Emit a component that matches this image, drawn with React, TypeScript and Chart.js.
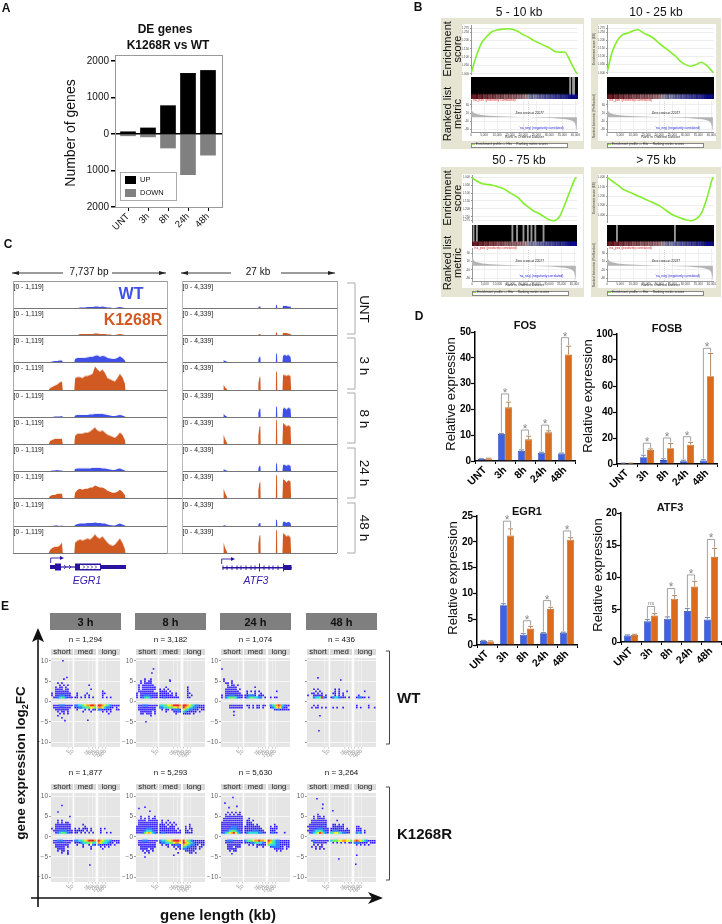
import React, { useEffect, useRef } from "react";
import { Chart, registerables } from "chart.js";
Chart.register(...registerables);
const F = '"Liberation Sans", Arial, sans-serif';
Chart.defaults.font.family = F;

/* ---------- Panel A ---------- */
const A_LABELS = ["UNT", "3h", "8h", "24h", "48h"];
const A_UP = [60, 165, 775, 1660, 1740];
const A_DOWN = [-50, -80, -385, -1115, -580];
const A_Y_TICKS = [-2000, -1000, 0, 1000, 2000];

/* ---------- Panel D ---------- */
const TIMES = ["UNT", "3h", "8h", "24h", "48h"];
const FOS_WT = [0.8, 10.5, 3.9, 3.2, 2.9];
const FOS_KR = [1, 20.8, 8.4, 11.1, 41.3];
const FOS_WT_ERR = [0.1, 0.2, 0.4, 0.2, 0.2];
const FOS_KR_ERR = [0.1, 2, 1.2, 0.6, 3.2];
const FOS_SIG = [null, 26, 12, 13.9, 47.8];
const FOSB_WT = [0.5, 5.2, 3, 2.2, 2.7];
const FOSB_KR = [0.5, 10.8, 12.2, 14.8, 67.5];
const FOSB_WT_ERR = [0.2, 1.5, 1, 0.7, 0.6];
const FOSB_KR_ERR = [0.2, 0.8, 3.5, 1.8, 17.5];
const FOSB_SIG = [null, 16, 20, 21, 89];
const EGR1_WT = [0.8, 7.7, 2, 2.3, 2.4];
const EGR1_KR = [0.7, 21.2, 3.2, 7, 20.4];
const EGR1_WT_ERR = [0.1, 0.3, 0.2, 0.1, 0.1];
const EGR1_KR_ERR = [0.1, 1.3, 0.4, 0.3, 0.4];
const EGR1_SIG = [null, 24, 4.7, 8.6, 22.1];
const ATF3_WT = [1, 3.2, 3.6, 4.8, 3.5];
const ATF3_KR = [1.1, 4.1, 6.7, 8.6, 13.2];
const ATF3_WT_ERR = [0.1, 0.3, 0.3, 0.4, 0.3];
const ATF3_KR_ERR = [0.1, 0.3, 0.5, 0.8, 1.3];
const ATF3_SIG = [null, 5.5, 8.3, 10.4, 15.9];
const ATF3_MARK = ["", "ns", "*", "*", "*"];

/* ---------- Panel B ---------- */
const RANKS = [0, 2000, 4000, 6000, 8000, 10000, 12000, 14000, 16000, 18000, 20000, 22000, 24000, 26000, 28000, 30000, 32000, 34000, 36000, 38000, 40000, 40600];
const ES_5_10 = [0, 0.105, 0.185, 0.225, 0.255, 0.265, 0.27, 0.272, 0.268, 0.255, 0.235, 0.22, 0.2, 0.185, 0.17, 0.155, 0.135, 0.13, 0.13, 0.07, 0.01, 0];
const ES_10_25 = [0, 0.13, 0.2, 0.235, 0.245, 0.26, 0.265, 0.245, 0.23, 0.21, 0.18, 0.155, 0.13, 0.105, 0.07, 0.05, 0.04, 0.05, 0.065, 0.045, 0.01, 0];
const ES_50_75 = [0, -0.025, -0.04, -0.045, -0.05, -0.06, -0.07, -0.09, -0.11, -0.13, -0.165, -0.19, -0.215, -0.23, -0.25, -0.27, -0.275, -0.25, -0.175, -0.09, -0.01, 0];
const ES_75 = [0, -0.04, -0.08, -0.125, -0.15, -0.175, -0.2, -0.225, -0.25, -0.275, -0.3, -0.34, -0.38, -0.41, -0.43, -0.45, -0.46, -0.44, -0.38, -0.23, -0.03, 0];
const ES_TICKS_POS = [0, 0.05, 0.1, 0.15, 0.2, 0.25, 0.275];
const ES_TICKS_NEG = [0, -0.05, -0.1, -0.15, -0.2, -0.25, -0.275];
const ES_TICKS_75 = [0, -0.05, -0.1, -0.15, -0.2, -0.25, -0.3, -0.35, -0.4, -0.45];
const RANK_TICKS = [0, 5000, 10000, 15000, 20000, 25000, 30000, 35000, 40000];
const METRIC_TICKS = [-30, -20, -10, 0, 10, 20, 30];
const METRIC_RANKS = [0, 150, 400, 800, 1500, 2500, 4000, 7000, 11000, 16000, 22000, 27000, 31000, 34000, 36500, 38000, 39200, 39900, 40300, 40600];
const METRIC = [32, 22, 16, 12, 9, 7.5, 5.5, 3.5, 2.2, 1, 0, -1, -2, -3.5, -5, -7, -10, -15, -24, -36];
const HITS_5_10 = [37800, 38900, 39300];
const HITS_10_25: number[] = [];
const HITS_50_75 = [600, 1900, 15700, 17500, 20000, 21700, 23100, 24600, 27800];
const HITS_75 = [3800, 25900];
const STRIP = [1, 0.8, 1, 0.7, 0.9, 0.6, 0.8, 0.5, 0.7, 0.6, 0.4, 0.6, 0.5, 0.3, 0.5, 0.4, 0.3, 0.4, 0.2, 0.3, 0.1, 0, -0.1, -0.3, -0.1, -0.2, -0.4, -0.3, -0.5, -0.4, -0.6, -0.5, -0.7, -0.6, -0.8, -0.7, -0.8, -0.9, -1, -1, -1];

/* ---------- Panel C ---------- */
const EGR1_BP = [1800, 1860, 1980, 2100, 2220, 2340, 2460, 2500, 3080, 3120, 3245, 3370, 3495, 3620, 3745, 3870, 3995, 4120, 4245, 4370, 4495, 4620, 4745, 4870, 4995, 5120, 5245, 5370, 5495, 5620, 5660];
const EGR1_TRACKS = [
  [0, 0, 0, 0, 0, 0, 0, 0, 0, 0, 0, 22, 22, 22, 43, 43, 43, 65, 65, 43, 65, 43, 22, 22, 0, 0, 22, 43, 22, 0, 0],
  [0, 0, 0, 0, 0, 0, 0, 0, 0, 0, 0, 43, 43, 43, 43, 43, 43, 65, 65, 43, 43, 43, 22, 22, 0, 0, 22, 43, 22, 0, 0],
  [0, 0, 22, 43, 43, 65, 65, 0, 0, 129, 172, 172, 172, 172, 194, 215, 215, 258, 280, 215, 258, 237, 172, 151, 129, 129, 172, 237, 172, 65, 0],
  [0, 86, 129, 172, 215, 300, 344, 0, 0, 473, 516, 516, 473, 559, 559, 602, 645, 946, 817, 731, 817, 688, 473, 430, 387, 344, 473, 645, 516, 258, 0],
  [0, 0, 0, 22, 22, 22, 43, 0, 0, 65, 86, 86, 86, 86, 86, 108, 108, 129, 129, 129, 129, 108, 86, 65, 43, 43, 65, 86, 65, 22, 0],
  [0, 129, 172, 215, 215, 215, 215, 0, 0, 344, 430, 430, 430, 473, 473, 516, 602, 688, 559, 516, 559, 473, 387, 344, 301, 258, 344, 473, 387, 172, 0],
  [0, 0, 22, 22, 43, 22, 22, 0, 0, 86, 108, 108, 108, 108, 108, 108, 129, 129, 129, 129, 108, 108, 86, 65, 43, 43, 86, 108, 65, 22, 0],
  [0, 86, 129, 129, 172, 172, 172, 0, 0, 215, 344, 387, 344, 387, 387, 430, 430, 516, 473, 430, 430, 387, 301, 258, 215, 215, 258, 344, 258, 129, 0],
  [0, 0, 0, 22, 22, 0, 22, 0, 0, 43, 86, 108, 108, 108, 129, 129, 129, 142, 129, 129, 108, 108, 65, 43, 22, 22, 65, 108, 65, 22, 0],
  [0, 129, 215, 258, 258, 301, 430, 0, 0, 430, 516, 559, 516, 559, 602, 559, 645, 774, 645, 602, 688, 559, 430, 344, 301, 344, 473, 602, 430, 172, 0],
];
const ATF3_BP = [0, 7200, 7250, 7500, 7800, 7900, 13250, 13300, 13500, 13650, 13700, 16350, 16400, 16550, 16600, 17500, 17600, 17900, 18200, 18500, 18900, 19000];
const ATF3_TRACKS = [
  [0, 0, 0, 0, 0, 0, 0, 125, 250, 250, 0, 0, 500, 500, 0, 0, 330, 330, 330, 250, 250, 0],
  [0, 0, 0, 0, 0, 0, 0, 85, 170, 170, 0, 0, 420, 420, 0, 0, 330, 330, 330, 250, 170, 0],
  [0, 0, 330, 170, 85, 0, 0, 420, 835, 835, 0, 0, 1340, 1340, 0, 0, 1000, 1170, 1000, 1170, 840, 0],
  [0, 0, 835, 420, 170, 0, 0, 1000, 2000, 2000, 0, 0, 2840, 2840, 0, 0, 2340, 2340, 2170, 2340, 2170, 0],
  [0, 0, 500, 250, 85, 0, 0, 670, 1340, 1340, 0, 0, 1670, 1670, 0, 0, 1340, 1500, 1170, 1500, 1340, 0],
  [0, 0, 1500, 800, 250, 0, 0, 1420, 2840, 2840, 0, 0, 3840, 3840, 0, 0, 3340, 3170, 2840, 3000, 2840, 0],
  [0, 0, 330, 170, 85, 0, 0, 420, 835, 835, 0, 0, 1250, 1250, 0, 0, 1000, 1000, 840, 1000, 840, 0],
  [0, 0, 1500, 800, 250, 0, 0, 1250, 2500, 2500, 0, 0, 3670, 3670, 0, 0, 3000, 2840, 2500, 2840, 2670, 0],
  [0, 0, 170, 85, 0, 0, 0, 250, 500, 500, 0, 0, 1000, 1000, 0, 0, 670, 670, 500, 670, 500, 0],
  [0, 0, 1670, 835, 250, 0, 0, 1420, 2840, 2840, 0, 0, 3670, 3670, 0, 0, 3170, 3000, 2670, 2840, 2500, 0],
];
const TRACK_ROWS = [281, 308, 335, 362, 390, 417, 444, 471, 498.5, 526, 553];

/* ---------- Panel E: density read per cell; '.' is empty, 1 blue ... 7 red ---------- */
const E_Y = [6, 5.5, 5, 4.5, 4, 3.5, 3, 2.5, 2, 1.5, 1, -1, -1.5, -2, -2.5, -3, -3.5, -4];
const E_Y_TICKS = [-10, -5, 0, 5, 10];
const WT_3H = [
  "...........|...........|...........",
  "......1....|...........|...........",
  "...........|...........|...........",
  "...1.1.....|...........|...........",
  "....1.1.1..|.......1...|...........",
  "..1.11.1...|...........|...........",
  "..1111.11..|........1..|...........",
  "..1111111..|...........|..1........",
  "1.11111111.|.1....1....|..11.......",
  "1.11222111.|.1...1.1...|..1........",
  ".1123432111|11.1.1.1.1.|..1.1.1....",
  ".1112221111|22334566776|77654321111",
  ".111111111.|11223344554|66532211.1.",
  "..1111111..|.1...1.1.11|2211111..11",
  "...1.11.1..|....1...1..|..1.1.1....",
  "....1.1.1..|...........|.....1.....",
  "...1.......|...........|...........",
  ".....1.....|...........|...........",
];
const WT_3H_OUT = [[6, 10], [7, -4.7], [18.5, -4.6], [8, 5.9]];
const WT_8H = [
  "...........|...........|...........",
  "....1..1...|...........|...........",
  "..1.1.11...|.....1.....|...........",
  "..1.1111...|...........|...........",
  ".1.111111..|...........|...........",
  ".1.1111111.|...1.......|..1........",
  ".1.1111111.|1.1.1......|..1........",
  ".11111111..|1111.1.....|..1........",
  "1.111111111|11111.1.1..|..11.......",
  "1.112221111|1111111.1..|..1.1......",
  "1.123432111|1121111111.|..11.......",
  ".1122211111|33445567776|77654322111",
  ".111111111.|22334445565|76543221111",
  ".111111111.|.1.11.12221|54322111.11",
  "..111111.1.|...1...1121|3211111.1..",
  "..11.111.1.|........1..|1111.1.....",
  ".......1...|...........|...........",
  "...........|...........|...........",
];
const WT_8H_OUT = [[8.8, 8], [8, 7], [5, -5], [17, 5.3]];
const WT_24H = [
  "...........|...........|...........",
  ".1.........|...........|...........",
  ".1...1.....|...........|...........",
  "..11.1.....|...........|...........",
  "...1.11.1..|...........|...........",
  "...11111...|.....1.....|...........",
  "..111111.1.|...........|...........",
  "..1111111..|.1.1.1.1...|....1......",
  "..11111111.|.1...1..1..|...........",
  "1.112221111|112221.111.|...........",
  "1.234443211|123443322.1|.1.11......",
  "....1111111|.11.1.11.11|.2346763211",
  "....1111111|..1.1.11.1.|.123565211.",
  "...........|...........|...11211111",
  "......1....|...........|...........",
  "...........|...........|...........",
  "...........|...........|...........",
  "...........|...........|...........",
];
const WT_24H_OUT = [[6.5, -3.4], [0.5, 8]];
const WT_48H = [
  "...........|...........|...........",
  "...........|...........|...........",
  "...........|...........|...........",
  "...........|...........|...........",
  "...........|...........|...........",
  "...........|...........|...........",
  "...1.1.....|..1.1......|...........",
  "....1.1....|..1.1...1..|.....1.....",
  "..11.1.1...|.11.1.1....|...........",
  "1..11111.1.|..1.1.1....|..1........",
  "...2334721.|12332111.1.|.12211.1...",
  "...1.1.....|...........|.1.....1...",
  "..1.11.1.1.|.1.1..1....|.1.1...1..1",
  "...........|...........|...........",
  "...........|...........|...........",
  "...........|...........|...........",
  "...........|...........|...........",
  "...........|...........|...........",
];
const WT_48H_OUT = [[6, -7.2], [6.5, -3.5], [5.5, 5.8], [17, 5.3]];
const KR_3H = [
  "...........|...........|...........",
  "...........|...........|...........",
  ".........1.|...........|...........",
  "...........|...........|...........",
  "...1.1.....|...........|...........",
  "...1.1.11..|...........|...........",
  "..11111111.|....1......|...........",
  "..11111111.|.....1.....|...........",
  "1.11111111.|1.1.111.1..|.1.1.......",
  ".1112222111|11111.1.1..|.1.........",
  "..123443211|11.1.1.1.1.|.1..1.1....",
  ".1122211111|22334567776|76543321111",
  ".111111111.|11123344543|65433211.11",
  "..1111111..|.1..1..1.21|2111111.1..",
  "..11111.1..|....1...1..|.1.1.1.....",
  "...1111....|........1..|..1........",
  "...1.11.1..|...........|...........",
  ".....1..1..|...........|...........",
];
const KR_3H_OUT = [[5.5, 7.7], [3.5, 6.1], [19.5, -7], [8.5, -4.3]];
const KR_8H = [
  "...........|...........|...........",
  "...........|...........|...........",
  "..1...1..1.|...........|...........",
  "..1.1.1.11.|...........|...........",
  ".1111.11111|.1..1......|...........",
  ".1111111111|.1.1.1.1...|...........",
  ".1111111111|111.1.1.1..|...1.......",
  "11111111111|1111.111...|.1.1.......",
  "11111222111|11111111.1.|.1.11......",
  "11112333211|111111111.1|.11.1......",
  "11124565321|12211111111|.1111......",
  ".1122211111|23345567776|75432111111",
  ".111111111.|12233445665|76543211111",
  ".111111111.|.1.11.11221|65432211.11",
  "..11111111.|....1..1.11|4322111.11.",
  "..1111.11..|........1.1|2211111.1..",
  "...1.11.1..|...........|.11111.....",
  "....1.1....|.........1.|...11.1....",
];
const KR_8H_OUT = [[1.5, 7], [4.5, 7.3], [4.5, -5], [19, -4.6], [7, 6.3]];
const KR_24H = [
  "...1.1.1.1.|...........|...........",
  "..1.1.1.11.|...........|...........",
  "..111111111|...........|...........",
  ".1111111111|..1........|...........",
  ".1111111111|.11.1......|...........",
  "11111111111|.111.......|...........",
  "11111111111|.1111.1....|...1.......",
  "11111222111|11111111...|.1.11......",
  "11112222111|111111111..|.1111......",
  "11123443211|1111222111.|.111.......",
  "12345675321|12333332211|.1211...1..",
  "..122211111|23445667665|76432211111",
  "..111111111|11122343321|65432211111",
  "...1111111.|..1.1.11111|43332211111",
  "...111.111.|......1..1.|.1222211.11",
  "...11111...|...........|...11111.1.",
  "....1.11...|...........|....1.1....",
  "...........|...........|...........",
];
const KR_24H_OUT = [[2, 8.3], [6, 9.7], [8, 7.5], [5.5, -4.2], [4, 7.2]];
const KR_48H = [
  "...........|...........|...........",
  ".....1.....|...........|...........",
  "...1.11.1..|...........|...........",
  "...1.1111..|...........|...........",
  "..11111111.|...1.......|...........",
  "..11111111.|...........|...........",
  ".111111111.|.11.1.1....|...........",
  "1111111111.|.111111....|.11........",
  ".1111222111|1111111.1..|.111.......",
  "11123343211|1222111111.|.111.1.....",
  ".1234576321|3455432211.|.232.1.....",
  "..121111111|34445566554|67654321111",
  "...1111111.|.1.1.1.1.11|2221111.111",
  "...1.1.1...|...........|.1.1.1.1...",
  "..1.1.11...|...........|...........",
  "....1.1.1..|...........|...........",
  "...........|...........|...........",
  "...........|...........|...........",
];
const KR_48H_OUT = [[5, 9.4], [8, 8], [7.8, 7], [13, 6.4], [16, -5.5], [25, -4.6], [24.5, -6.8]];
const E_LEVEL_COLORS = ["#2a14ff", "#2c7dff", "#27dbe0", "#66f060", "#f2f02e", "#ff9a1e", "#ee2222"];
const E_X_TICKS = [9, 11, 19, 20.7, 22.3, 24, 26, 27.5];
const E_X_LABELS = ["5", "10", "25", "50", "75", "100", "250", "500"];

/* ---------- helpers ---------- */
type Spec = { left: number; top: number; w: number; h: number; config: any };
const SPECS: Spec[] = [];
const setTicks = (vals: number[]) => (s: any) => { s.ticks = vals.map((value) => ({ value })); };
function place(px: number, py: number, pw: number, ph: number, m: any, data: any, options: any, plugins: any[] = [], type = "bar") {
  const sc = options.scales;
  const pad: any = { top: m.t, right: m.r, left: 0, bottom: 0 };
  if (sc.x.display === false) pad.bottom = m.b; else sc.x.afterFit = (s: any) => { s.height = m.b; };
  if (sc.y.display === false) pad.left = m.l; else sc.y.afterFit = (s: any) => { s.width = m.l; };
  SPECS.push({
    left: px - m.l, top: py - m.t, w: pw + m.l + m.r, h: ph + m.t + m.b,
    config: {
      type, data, plugins,
      options: {
        ...options, responsive: false, maintainAspectRatio: false, animation: false, layout: { padding: pad },
        plugins: { legend: { display: false }, tooltip: { enabled: false }, title: { display: false }, ...(options.plugins || {}) },
      },
    },
  });
}

/* Panel A chart */
place(115, 55, 107, 152, { l: 45, r: 6, t: 6, b: 30 },
  {
    datasets: [
      { label: "UP", data: A_UP.map((y, x) => ({ x, y })), backgroundColor: "#000", barThickness: 15, grouped: false },
      { label: "DOWN", data: A_DOWN.map((y, x) => ({ x, y })), backgroundColor: "#808080", barThickness: 15, grouped: false },
    ],
  },
  {
    scales: {
      x: {
        type: "linear", min: -0.65, max: 4.7, offset: false, bounds: "data",
        afterBuildTicks: setTicks([0, 1, 2, 3, 4]),
        grid: { offset: false, drawOnChartArea: false, tickLength: 4, tickColor: "#000" }, border: { display: false },
        ticks: { autoSkip: false, minRotation: 45, maxRotation: 45, padding: 0, color: "#111", font: { size: 9.5 }, callback: (_: any, i: number) => A_LABELS[i] },
      },
      y: {
        min: -2000, max: 2108, border: { display: false }, bounds: "data",
        afterBuildTicks: setTicks(A_Y_TICKS),
        grid: { z: 1, color: (c: any) => (c.tick && c.tick.value === 0 ? "#000" : "transparent"), lineWidth: 1.5, tickColor: "#000", tickLength: 4 },
        ticks: { padding: 2, color: "#111", font: { size: 10 }, callback: (v: number) => String(Math.abs(v)) },
      },
    },
  });

/* Panel D charts */
const sigPlugin = {
  id: "sig",
  afterDatasetsDraw(chart: any) {
    const ds = chart.data.datasets;
    const y = chart.scales.y;
    const ctx = chart.ctx;
    ctx.save();
    ds.forEach((d: any, k: number) => {
      const meta = chart.getDatasetMeta(k);
      meta.data.forEach((bar: any, i: number) => {
        const top = y.getPixelForValue(d.data[i] + d.err[i]);
        ctx.strokeStyle = k === 0 ? "#7484a8" : "#b08a64";
        ctx.lineWidth = 1;
        ctx.beginPath();
        ctx.moveTo(bar.x, bar.y); ctx.lineTo(bar.x, top);
        ctx.moveTo(bar.x - 2.5, top); ctx.lineTo(bar.x + 2.5, top);
        ctx.stroke();
      });
    });
    const opt = chart.options.plugins.sigLevels;
    const a = chart.getDatasetMeta(0).data, b = chart.getDatasetMeta(1).data;
    opt.levels.forEach((lv: number | null, i: number) => {
      if (lv == null) return;
      const yl = y.getPixelForValue(lv);
      const y0 = y.getPixelForValue(ds[0].data[i] + ds[0].err[i]) - 1;
      const y1 = y.getPixelForValue(ds[1].data[i] + ds[1].err[i]) - 1;
      ctx.strokeStyle = "#8a8a8a"; ctx.lineWidth = 0.8;
      ctx.beginPath();
      ctx.moveTo(a[i].x, y0); ctx.lineTo(a[i].x, yl); ctx.lineTo(b[i].x, yl); ctx.lineTo(b[i].x, y1);
      ctx.stroke();
      const mark = opt.marks ? opt.marks[i] : "*";
      ctx.fillStyle = "#8a8a8a";
      ctx.textAlign = "center";
      ctx.textBaseline = "alphabetic";
      ctx.font = mark === "*" ? `12px ${F}` : `6px ${F}`;
      ctx.fillText(mark, (a[i].x + b[i].x) / 2, mark === "*" ? yl + 3 : yl - 1.5);
    });
    ctx.restore();
  },
};
function barPanel(px: number, py: number, ph: number, wt: number[], kr: number[], ew: number[], ek: number[], levels: any[], max: number, step: number, marks?: string[]) {
  place(px, py, 100, ph, { l: 32, r: 8, t: 18, b: 34 },
    {
      labels: TIMES,
      datasets: [
        { data: wt, err: ew, backgroundColor: "#3f62e4", borderColor: "#2f4aa8", borderWidth: 0.8, categoryPercentage: 0.72, barPercentage: 0.98 },
        { data: kr, err: ek, backgroundColor: "#d96c1e", borderColor: "#ad6a34", borderWidth: 0.8, categoryPercentage: 0.72, barPercentage: 0.98 },
      ],
    },
    {
      plugins: { sigLevels: { levels, marks } },
      scales: {
        x: {
          grid: { drawOnChartArea: false, tickLength: 3, tickColor: "#000" }, border: { color: "#000", width: 1.5 },
          ticks: { autoSkip: false, minRotation: 45, maxRotation: 45, padding: 0, color: "#000", font: { size: 10.5, weight: "bold" } },
        },
        y: {
          min: 0, max, grid: { drawOnChartArea: false, tickLength: 4, tickColor: "#000", tickWidth: 1.2 }, border: { color: "#000", width: 1.5 },
          ticks: { stepSize: step, padding: 0, color: "#000", font: { size: 10, weight: "bold" } },
        },
      },
    }, [sigPlugin]);
}
barPanel(475, 332, 129, FOS_WT, FOS_KR, FOS_WT_ERR, FOS_KR_ERR, FOS_SIG, 50, 10);
barPanel(617, 334, 130, FOSB_WT, FOSB_KR, FOSB_WT_ERR, FOSB_KR_ERR, FOSB_SIG, 100, 20);
barPanel(477, 516, 129, EGR1_WT, EGR1_KR, EGR1_WT_ERR, EGR1_KR_ERR, EGR1_SIG, 25, 5);
barPanel(621, 513, 129, ATF3_WT, ATF3_KR, ATF3_WT_ERR, ATF3_KR_ERR, ATF3_SIG, 20, 5, ATF3_MARK);

/* Panel B charts */
const stripColor = (v: number) => {
  const t = 1 - Math.abs(v);
  return v >= 0
    ? `rgba(${Math.round(130 + 100 * t)},${Math.round(20 + 170 * t)},${Math.round(30 + 170 * t)},0.6)`
    : `rgba(${Math.round(15 + 190 * t)},${Math.round(15 + 190 * t)},${Math.round(190 + 40 * t)},0.6)`;
};
function gsea(g: any) {
  const w = g.inR - g.inL;
  const tiny = { size: 3 };
  place(g.inL, g.esT, w, g.esB - g.esT, { l: 9, r: 2, t: 1, b: 1 },
    { datasets: [{ data: RANKS.map((x, i) => ({ x, y: g.es[i] })), borderColor: "#82ee2c", borderWidth: 1.6, pointRadius: 0, tension: 0.25 }] },
    {
      scales: {
        x: { type: "linear", display: false, min: 0, max: 40800, bounds: "data" },
        y: {
          min: g.yMin, max: g.yMax, bounds: "data", border: { color: "#999" }, grid: { color: "#eee", tickLength: 1, tickColor: "#999" },
          afterBuildTicks: setTicks(g.yTicks),
          ticks: { padding: 1, color: "#444", font: tiny, callback: (v: number) => v.toFixed(3) },
        },
      },
    }, [], "line");
  place(g.inL, g.bT, w, g.bB - g.bT, { l: 1, r: 1, t: 0, b: 0 },
    {
      datasets: [
        { type: "line", data: [{ x: 0, y: 1 }, { x: 40800, y: 1 }], fill: "origin", backgroundColor: "#000", borderWidth: 0, pointRadius: 0, order: 3 },
        { data: g.hits.map((x: number) => ({ x, y: [0.2, 1] })), backgroundColor: "#999", barThickness: 1.2, grouped: false, order: 2 },
        { data: STRIP.map((v, i) => ({ x: i * 1000 + 300, y: [0, 0.2] })), backgroundColor: STRIP.map(stripColor), barThickness: 3, grouped: false, order: 1 },
      ],
    },
    {
      scales: {
        x: { type: "linear", display: false, min: 0, max: 40800, offset: false, bounds: "data", grid: { offset: false } },
        y: { display: false, min: 0, max: 1 },
      },
    });
  place(g.inL, g.rT, w, g.rB - g.rT, { l: 9, r: 2, t: 1, b: 6 },
    {
      datasets: [
        { data: METRIC_RANKS.map((x, i) => ({ x, y: METRIC[i] })), borderWidth: 0, backgroundColor: "#b4b4b4", fill: "origin", pointRadius: 0 },
        { data: [{ x: 22000, y: -36 }, { x: 22000, y: 40 }], borderColor: "#aaa", borderWidth: 0.5, borderDash: [1, 1], pointRadius: 0 },
      ],
    },
    {
      scales: {
        x: {
          type: "linear", min: 0, max: 40800, bounds: "data", border: { color: "#999" }, grid: { color: "#eee", tickLength: 1, tickColor: "#999" },
          afterBuildTicks: setTicks(RANK_TICKS),
          ticks: { padding: 0, maxRotation: 0, autoSkip: false, color: "#444", font: tiny, callback: (v: number) => v.toLocaleString("en-US") },
        },
        y: {
          min: -36, max: 40, bounds: "data", border: { color: "#999" }, grid: { color: "#eee", tickLength: 1, tickColor: "#999" },
          afterBuildTicks: setTicks(METRIC_TICKS),
          ticks: { padding: 1, color: "#444", font: tiny },
        },
      },
    }, [], "line");
}
const GS = [
  { bgL: 441, bgR: 584, bgT: 18, bgB: 149, whL: 462, whR: 583, whT: 24, whB: 141, inL: 470.7, inR: 578, esT: 24, esB: 76, bT: 77, bB: 98.7, rT: 99, rB: 132, es: ES_5_10, hits: HITS_5_10, yMin: -0.003, yMax: 0.29, yTicks: ES_TICKS_POS, title: "5 - 10 kb", tx: 519, ty: 12 },
  { bgL: 591, bgR: 721, bgT: 18, bgB: 149, whL: 598, whR: 716, whT: 24, whB: 141, inL: 607, inR: 714, esT: 24, esB: 75, bT: 77, bB: 98.7, rT: 99, rB: 132, es: ES_10_25, hits: HITS_10_25, yMin: -0.003, yMax: 0.29, yTicks: ES_TICKS_POS, title: "10 - 25 kb", tx: 656, ty: 12 },
  { bgL: 441, bgR: 584, bgT: 167, bgB: 297, whL: 462, whR: 583, whT: 174, whB: 288, inL: 472, inR: 577, esT: 174, esB: 224, bT: 225, bB: 246, rT: 247, rB: 281, es: ES_50_75, hits: HITS_50_75, yMin: -0.285, yMax: 0.01, yTicks: ES_TICKS_NEG, title: "50 - 75 kb", tx: 519, ty: 160 },
  { bgL: 591, bgR: 721, bgT: 167, bgB: 297, whL: 598, whR: 716, whT: 174, whB: 288, inL: 607, inR: 714, esT: 174, esB: 224, bT: 225, bB: 246, rT: 247, rB: 281, es: ES_75, hits: HITS_75, yMin: -0.475, yMax: 0.015, yTicks: ES_TICKS_75, title: "> 75 kb", tx: 656, ty: 160 },
];
GS.forEach((g) => gsea(g));

/* Panel C charts */
function track(x: number, top: number, bottom: number, w: number, xs: number[], vals: number[], color: string, xmax: number, ymax: number) {
  place(x, top, w, bottom - top, { l: 0, r: 0, t: 0, b: 0 },
    { datasets: [{ data: xs.map((v, i) => ({ x: v, y: vals[i] })), fill: "origin", backgroundColor: color, borderWidth: 0, pointRadius: 0 }] },
    { scales: { x: { type: "linear", display: false, min: 0, max: xmax, bounds: "data" }, y: { display: false, min: 0, max: ymax, bounds: "data" } } }, [], "line");
}
const BLUE = "#3f4fe8", ORANGE = "#d15a22";
for (let i = 0; i < 10; i++) {
  const c = i % 2 === 0 ? BLUE : ORANGE;
  track(13, TRACK_ROWS[i], TRACK_ROWS[i + 1] - 0.5, 154, EGR1_BP, EGR1_TRACKS[i], c, 7737, 1119);
  track(182, TRACK_ROWS[i], TRACK_ROWS[i + 1] - 0.5, 155, ATF3_BP, ATF3_TRACKS[i], c, 27000, 4339);
}

/* Panel E charts */
const facetPlugin = {
  id: "facetBg",
  beforeDraw(chart: any) {
    const { ctx, chartArea: a, scales } = chart;
    ctx.save();
    ctx.fillStyle = "#e5e5e5";
    [[0, 11], [11.65, 22.65], [23.5, 34.65]].forEach(([s, e]) => {
      const l = scales.x.getPixelForValue(s), r = scales.x.getPixelForValue(e);
      ctx.fillRect(l, a.top, r - l, a.bottom - a.top);
    });
    ctx.restore();
  },
};
const FACET_SHIFT = [0, 11.65, 23.5];
function densityPanel(px: number, top: number, bottom: number, zero: number, grid: string[], out: number[][], showY: boolean) {
  const levels: any[][] = E_LEVEL_COLORS.map(() => []);
  grid.forEach((row, r) => {
    row.split("|").forEach((seg, f) => {
      for (let c = 0; c < seg.length; c++) {
        const ch = seg[c];
        if (ch !== ".") levels[Number(ch) - 1].push({ x: c + 0.5 + FACET_SHIFT[f], y: E_Y[r] });
      }
    });
  });
  const upp = 4.2;
  const datasets: any[] = levels.map((data, i) => ({
    data, backgroundColor: E_LEVEL_COLORS[i], pointStyle: "rect", pointRadius: i === 0 ? 1.15 : 1.6, borderWidth: 0,
  }));
  datasets.push({ data: out.map(([x, y]) => ({ x, y })), backgroundColor: E_LEVEL_COLORS[0], pointStyle: "rect", pointRadius: 1.1, borderWidth: 0 });
  place(px, top, 69.3, bottom - top, { l: 24, r: 4, t: 2, b: 14 }, { datasets },
    {
      scales: {
        x: {
          type: "linear", min: 0, max: 34.65, bounds: "data", border: { display: false },
          afterBuildTicks: setTicks(E_X_TICKS),
          grid: { color: "#f3f3f3", lineWidth: 0.6, tickLength: 1.5, tickColor: "#aaa" },
          ticks: { autoSkip: false, minRotation: 45, maxRotation: 45, padding: 0, color: "#999", font: { size: 5 }, callback: (_: any, i: number) => E_X_LABELS[i] },
        },
        y: {
          min: -(bottom - zero) / upp, max: (zero - top) / upp, bounds: "data", border: { display: false },
          afterBuildTicks: setTicks(E_Y_TICKS),
          grid: { color: "#fbfbfb", lineWidth: 0.8, tickLength: 2, tickColor: "#888" },
          ticks: { padding: 1, color: "#666", font: { size: 6.5 }, callback: (v: number) => (showY ? String(v).replace("-", "\u2212") : "") },
        },
      },
    }, [facetPlugin], "scatter");
}
const E_X = [51, 136, 221, 307];
const E_TIMES = ["3 h", "8 h", "24 h", "48 h"];
const E_N_WT = ["n = 1,294", "n = 3,182", "n = 1,074", "n = 436"];
const E_N_KR = ["n = 1,877", "n = 5,293", "n = 5,630", "n = 3,264"];
const WT_GRIDS = [WT_3H, WT_8H, WT_24H, WT_48H];
const WT_OUTS = [WT_3H_OUT, WT_8H_OUT, WT_24H_OUT, WT_48H_OUT];
const KR_GRIDS = [KR_3H, KR_8H, KR_24H, KR_48H];
const KR_OUTS = [KR_3H_OUT, KR_8H_OUT, KR_24H_OUT, KR_48H_OUT];
E_X.forEach((x, i) => {
  densityPanel(x, 655, 747, 700, WT_GRIDS[i], WT_OUTS[i], i < 3);
  densityPanel(x, 789.5, 882, 835, KR_GRIDS[i], KR_OUTS[i], true);
});

/* ---------- page pieces ---------- */
function T({ x, y, s, b, i, c = "#111", rot = 0, a = "c", children }: any) {
  const tx = a === "c" ? "-50%" : "0";
  return (
    <div style={{ position: "absolute", left: x, top: y, fontFamily: F, fontSize: s, fontWeight: b ? "bold" : "normal", fontStyle: i ? "italic" : "normal", color: c, whiteSpace: "nowrap", lineHeight: 1, transform: `translate(${tx},-50%) rotate(${rot}deg)` }}>
      {children}
    </div>
  );
}
function Bx({ x, y, w, h, c, style }: any) {
  return <div style={{ position: "absolute", left: x, top: y, width: w, height: h, background: c, boxSizing: "border-box", ...style }} />;
}

function Background() {
  return (
    <>
      {GS.map((g, k) => (
        <React.Fragment key={k}>
          <Bx x={g.bgL} y={g.bgT} w={g.bgR - g.bgL} h={g.bgB - g.bgT} c="#e6e4d2" />
          <Bx x={g.whL} y={g.whT} w={g.whR - g.whL} h={g.whB - g.whT} c="#fff" />
        </React.Fragment>
      ))}
      {TRACK_ROWS.slice(1).map((y, i) => (
        <React.Fragment key={i}>
          <Bx x={13} y={y - 0.5} w={154} h={1.2} c="#777" />
          <Bx x={182} y={y - 0.5} w={155} h={1.2} c="#777" />
        </React.Fragment>
      ))}
      <Bx x={13} y={281} w={154} h={1} c="#999" />
      <Bx x={182} y={281} w={155} h={1} c="#999" />
      <Bx x={13} y={281} w={1} h={272} c="#aaa" />
      <Bx x={167} y={281} w={1} h={272} c="#aaa" />
      <Bx x={182} y={281} w={1} h={272} c="#bbb" />
      <Bx x={337} y={281} w={1} h={272} c="#aaa" />
      <Bx x={167} y={443.7} w={15} h={0.8} c="#aaa" />
      <Bx x={167} y={498} w={15} h={0.8} c="#666" />
      <Bx x={167} y={552.7} w={15} h={0.8} c="#aaa" />
    </>
  );
}

function Overlay() {
  const ns = "#2a12a0";
  const br = (x0: number, x1: number, y0: number, y1: number, c: string, w = 1) => (
    <path d={`M${x0} ${y0}H${x1}V${y1}H${x0}`} fill="none" stroke={c} strokeWidth={w} />
  );
  return (
    <svg width={722} height={924} style={{ position: "absolute", left: 0, top: 0 }}>
      {[[12, 63, 1], [112, 166, 0], [181, 231, 1], [281, 335, 0]].map(([a, b, left], i) => (
        <g key={i}>
          <line x1={a} x2={b} y1={273} y2={273} stroke="#222" strokeWidth={0.9} />
          {left ? <path d={`M${a} 273l7 -2v4z`} fill="#222" /> : <path d={`M${b} 273l-7 -2v4z`} fill="#222" />}
        </g>
      ))}
      {br(347, 355, 283, 334, "#aaa")}
      {br(347, 355, 338, 389, "#aaa")}
      {br(347, 355, 393, 443, "#aaa")}
      {br(347, 355, 448, 498, "#aaa")}
      {br(347, 355, 503, 553, "#aaa")}
      <line x1={50} x2={75} y1={567} y2={567} stroke={ns} strokeWidth={1.2} />
      <rect x={50} y={565} width={6} height={4} fill={ns} />
      <rect x={55} y={563.5} width={6} height={7} fill={ns} />
      <path d="M64 565l2 2l-2 2M69 565l2 2l-2 2" fill="none" stroke={ns} strokeWidth={0.8} />
      <rect x={75} y={563.5} width={26} height={7} fill={ns} />
      <rect x={80} y={565} width={20} height={4} fill="#fff" />
      <path d="M83 565.5l1.5 1.5l-1.5 1.5M87 565.5l1.5 1.5l-1.5 1.5M91 565.5l1.5 1.5l-1.5 1.5M95 565.5l1.5 1.5l-1.5 1.5" fill="none" stroke={ns} strokeWidth={0.8} />
      <rect x={101} y={565} width={25} height={4} fill={ns} />
      <path d="M50.7 563V558H61" fill="none" stroke={ns} strokeWidth={0.9} />
      <path d="M64 558l-4 -2v4z" fill={ns} />
      <line x1={222.5} x2={291.7} y1={567.7} y2={567.7} stroke={ns} strokeWidth={1.4} />
      {[223, 227, 232, 237, 241, 246, 251, 255, 264, 269, 273, 278].map((x) => (
        <line key={x} x1={x} x2={x} y1={565.5} y2={570} stroke={ns} strokeWidth={0.9} />
      ))}
      <line x1={259.5} x2={259.5} y1={563.5} y2={571.5} stroke={ns} strokeWidth={0.9} />
      <line x1={283.5} x2={283.5} y1={563.5} y2={571.5} stroke={ns} strokeWidth={0.9} />
      <rect x={283.5} y={565} width={8} height={5} fill={ns} />
      <path d="M221.7 564V559H232" fill="none" stroke={ns} strokeWidth={0.9} />
      <path d="M235 559l-4 -2v4z" fill={ns} />
      <line x1={38} x2={38} y1={907} y2={638} stroke="#111" strokeWidth={1.6} />
      <path d="M38 628L44 642L38 639L32 642Z" fill="#111" />
      <line x1={31} x2={373} y1={898} y2={898} stroke="#111" strokeWidth={1.6} />
      <path d="M383 898L368 892L372 898L368 904Z" fill="#111" />
      <path d="M386 651H389.5V744H386" fill="none" stroke="#444" strokeWidth={1} />
      <path d="M386 787H389.5V880H386" fill="none" stroke="#444" strokeWidth={1} />
    </svg>
  );
}

function Texts() {
  const C_TIMES: [string, number][] = [["UNT", 309], ["3 h", 366], ["8 h", 419], ["24 h", 473], ["48 h", 528]];
  return (
    <>
      <T x={6} y={8} s={12} b>A</T>
      <T x={418} y={7} s={12} b>B</T>
      <T x={8} y={244} s={12} b>C</T>
      <T x={419} y={316} s={12} b>D</T>
      <T x={5} y={606} s={12} b>E</T>

      <T x={165} y={29} s={12} b>DE genes</T>
      <T x={168} y={45} s={12} b>K1268R vs WT</T>
      <T x={70} y={133} s={14} rot={-90}>Number of genes</T>
      <Bx x={115} y={55} w={107.5} h={153} style={{ border: "1.6px solid #999" }} />
      <Bx x={120} y={171.5} w={57} h={29} c="#fff" style={{ border: "1.2px solid #aaa" }} />
      <Bx x={125} y={176} w={10.5} h={8} c="#000" />
      <Bx x={125} y={189} w={10.5} h={7.5} c="#808080" />
      <T x={140} y={180} s={7.5} a="l">UP</T>
      <T x={140} y={193} s={7.5} a="l">DOWN</T>

      {GS.map((g, k) => {
        const left = k % 2 === 0;
        const o = g.bgT;
        return (
          <React.Fragment key={k}>
            <T x={g.tx} y={g.ty} s={12}>{g.title}</T>
            {left ? (
              <>
                <T x={447} y={o + 31} s={11} rot={-90}>Enrichment</T>
                <T x={457} y={o + 31} s={11} rot={-90}>score</T>
                <T x={447} y={o + 96} s={11} rot={-90}>Ranked list</T>
                <T x={457} y={o + 96} s={11} rot={-90}>metric</T>
              </>
            ) : (
              <>
                <T x={595} y={o + 31} s={3.2} c="#333" rot={-90}>Enrichment score (ES)</T>
                <T x={595} y={o + 98} s={3.2} c="#333" rot={-90}>Ranked list metric (PreRanked)</T>
              </>
            )}
            <T x={g.inL + 2} y={g.rT + 1.5} s={3.2} c="#d22" a="l">'na_pos' (positively correlated)</T>
            <T x={g.inL + (g.inR - g.inL) * 0.55} y={g.rT + 15} s={3.2} c="#222">Zero cross at 22077</T>
            <T x={g.inL + (g.inR - g.inL) * 0.66} y={g.rT + 30} s={3.2} c="#22d">'na_neg' (negatively correlated)</T>
            <T x={(g.inL + g.inR) / 2} y={g.rT + 39} s={3.5} c="#333">Rank in Ordered Dataset</T>
            <Bx x={g.inL} y={g.bgB - 6.5} w={97} h={5.5} c="#fff" style={{ border: "0.6px solid #888" }} />
            <T x={g.inL + 1} y={g.bgB - 3.7} s={3.2} c="#333" a="l"><span style={{ color: "#82ee2c" }}>▬</span> Enrichment profile — Hits &nbsp;&nbsp;&nbsp; Ranking metric scores</T>
          </React.Fragment>
        );
      })}

      <T x={89} y={272} s={10}>7,737 bp</T>
      <T x={258} y={272} s={10}>27 kb</T>
      <T x={131} y={294} s={16} b c="#3f4fe8">WT</T>
      <T x={133} y={320} s={16} b c="#d15a22">K1268R</T>
      {TRACK_ROWS.slice(0, 10).map((y, i) => (
        <React.Fragment key={i}>
          <T x={13.5} y={y + 6} s={6.8} c="#222" a="l">[0 - 1,119]</T>
          <T x={182.5} y={y + 6} s={6.8} c="#222" a="l">[0 - 4,339]</T>
        </React.Fragment>
      ))}
      {C_TIMES.map(([t, y]) => <T key={t} x={364} y={y} s={13.5} rot={90}>{t}</T>)}
      <T x={87} y={580} s={10.5} i c="#3a20b0">EGR1</T>
      <T x={256} y={580} s={10.5} i c="#3a20b0">ATF3</T>

      <T x={525} y={325} s={11} b>FOS</T>
      <T x={667} y={328} s={11} b>FOSB</T>
      <T x={527} y={511} s={11} b>EGR1</T>
      <T x={670} y={507} s={11} b>ATF3</T>
      <T x={450} y={394} s={13} rot={-90}>Relative expression</T>
      <T x={587} y={396} s={13} rot={-90}>Relative expression</T>
      <T x={452} y={578} s={13} rot={-90}>Relative expression</T>
      <T x={597} y={575} s={13} rot={-90}>Relative expression</T>

      {E_X.map((x, i) => (
        <React.Fragment key={i}>
          <Bx x={x - 1} y={613} w={71} h={16.5} c="#7f7f80" />
          <T x={x + 34.5} y={621.5} s={11} b>{E_TIMES[i]}</T>
          <T x={x + 34.5} y={639.5} s={8}>{E_N_WT[i]}</T>
          <T x={x + 34.5} y={773} s={8}>{E_N_KR[i]}</T>
          {[648.5, 783.5].map((sy) => (
            <React.Fragment key={sy}>
              <Bx x={x} y={sy} w={22} h={6} c="#d9d9d9" />
              <Bx x={x + 23.3} y={sy} w={22} h={6} c="#d9d9d9" />
              <Bx x={x + 47} y={sy} w={22.3} h={6} c="#d9d9d9" />
              <T x={x + 11} y={sy + 3} s={7.8} c="#222">short</T>
              <T x={x + 34.3} y={sy + 3} s={7.8} c="#222">med</T>
              <T x={x + 58} y={sy + 3} s={7.8} c="#222">long</T>
            </React.Fragment>
          ))}
        </React.Fragment>
      ))}
      <T x={22} y={763} s={13.5} b rot={-90}>gene expression log<sub style={{ fontSize: 9 }}>2</sub>FC</T>
      <T x={218} y={914} s={15} b>gene length (kb)</T>
      <T x={397} y={697} s={15} b a="l">WT</T>
      <T x={397} y={833} s={15} b a="l">K1268R</T>
    </>
  );
}

export default function App() {
  const refs = useRef<(HTMLCanvasElement | null)[]>([]);
  useEffect(() => {
    const charts = SPECS.map((s, i) => new Chart(refs.current[i] as HTMLCanvasElement, s.config));
    return () => charts.forEach((c) => c.destroy());
  }, []);
  return (
    <div style={{ position: "fixed", left: 0, top: 0, width: 722, height: 924, overflow: "hidden", background: "#fff" }}>
      <Background />
      {SPECS.map((s, i) => (
        <canvas key={i} ref={(el) => { refs.current[i] = el; }} width={s.w} height={s.h}
          style={{ position: "absolute", left: s.left, top: s.top, width: s.w, height: s.h }} />
      ))}
      <Overlay />
      <Texts />
    </div>
  );
}
